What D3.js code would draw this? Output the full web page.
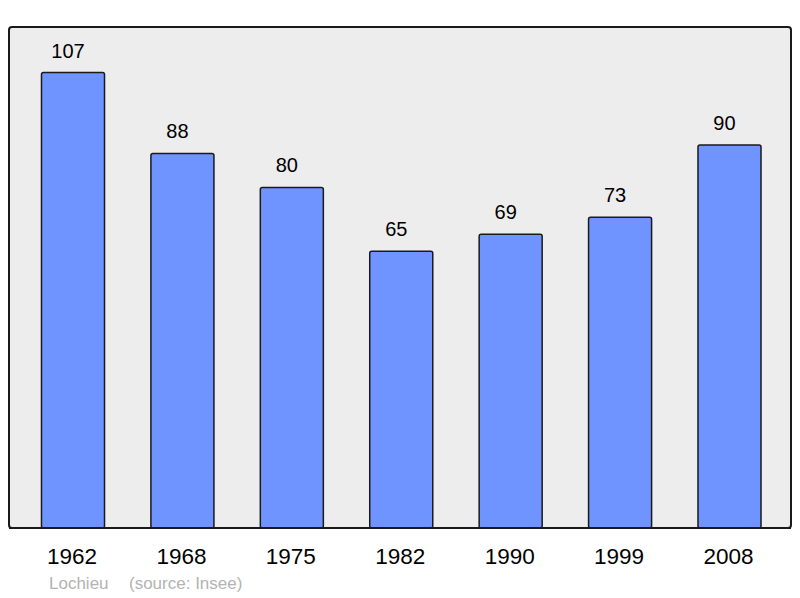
<!DOCTYPE html>
<html>
<head>
<meta charset="utf-8">
<script src="https://cdn.jsdelivr.net/npm/d3@7"></script>
<style>
  body { margin: 0; background: #fff; }
  svg { display: block; font-family: "Liberation Sans", Arial, sans-serif; }
</style>
</head>
<body>
<svg id="chart" width="800" height="598"></svg>
<script>
  var years = ["1962", "1968", "1975", "1982", "1990", "1999", "2008"];
  var population = [107, 88, 80, 65, 69, 73, 90];
  var commune = "Lochieu";
  var source = "(source: Insee)";

  var svg = d3.select("#chart");

  var frame = {left: 9, top: 27, right: 791, bottom: 528};

  var x = d3.scaleBand()
    .domain(years)
    .range([18.3, 784.2])
    .paddingInner(0.424)
    .paddingOuter(0.212);

  var y = d3.scaleLinear()
    .domain([0, d3.max(population) * 1.1])
    .range([frame.bottom, frame.top]);

  svg.append("rect")
    .attr("x", frame.left)
    .attr("y", frame.top)
    .attr("width", frame.right - frame.left)
    .attr("height", frame.bottom - frame.top)
    .attr("rx", 3)
    .attr("fill", "#ededed")
    .attr("stroke", "#1a1a1a")
    .attr("stroke-width", 2);

  var data = years.map(function(d, i) { return {year: d, value: population[i]}; });

  svg.selectAll("rect.bar")
    .data(data)
    .enter().append("rect")
      .attr("class", "bar")
      .attr("x", function(d) { return x(d.year); })
      .attr("y", function(d) { return y(d.value); })
      .attr("width", x.bandwidth())
      .attr("height", function(d) { return frame.bottom - y(d.value); })
      .attr("rx", 2)
      .attr("fill", "#7094ff")
      .attr("stroke", "#1a1a1a")
      .attr("stroke-width", 1.5);

  // redraw bottom frame line over the bars
  svg.append("line")
    .attr("x1", frame.left)
    .attr("x2", frame.right)
    .attr("y1", frame.bottom)
    .attr("y2", frame.bottom)
    .attr("stroke", "#1a1a1a")
    .attr("stroke-width", 2);

  // value labels sit a little left of the bar centre, as in the original
  svg.selectAll("text.value")
    .data(data)
    .enter().append("text")
      .attr("class", "value")
      .attr("x", function(d) { return x(d.year) + x.bandwidth() / 2 - 5; })
      .attr("y", function(d) { return y(d.value) - 15; })
      .attr("text-anchor", "middle")
      .attr("font-size", 20)
      .attr("fill", "#000")
      .text(function(d) { return d.value; });

  var axis = d3.axisBottom(x).tickSize(0).tickPadding(0);
  var gx = svg.append("g")
    .attr("transform", "translate(-1," + (frame.bottom + 36) + ")")
    .call(axis);
  gx.select(".domain").remove();
  gx.selectAll("text")
    .attr("dy", 0)
    .attr("font-size", 22.5)
    .attr("font-family", "Liberation Sans, Arial, sans-serif")
    .attr("fill", "#000");

  svg.append("text")
    .attr("x", 49)
    .attr("y", 589)
    .attr("font-size", 17)
    .attr("fill", "#b3b3b3")
    .text(commune);

  svg.append("text")
    .attr("x", 129)
    .attr("y", 589)
    .attr("font-size", 17)
    .attr("fill", "#b3b3b3")
    .text(source);
</script>
</body>
</html>
